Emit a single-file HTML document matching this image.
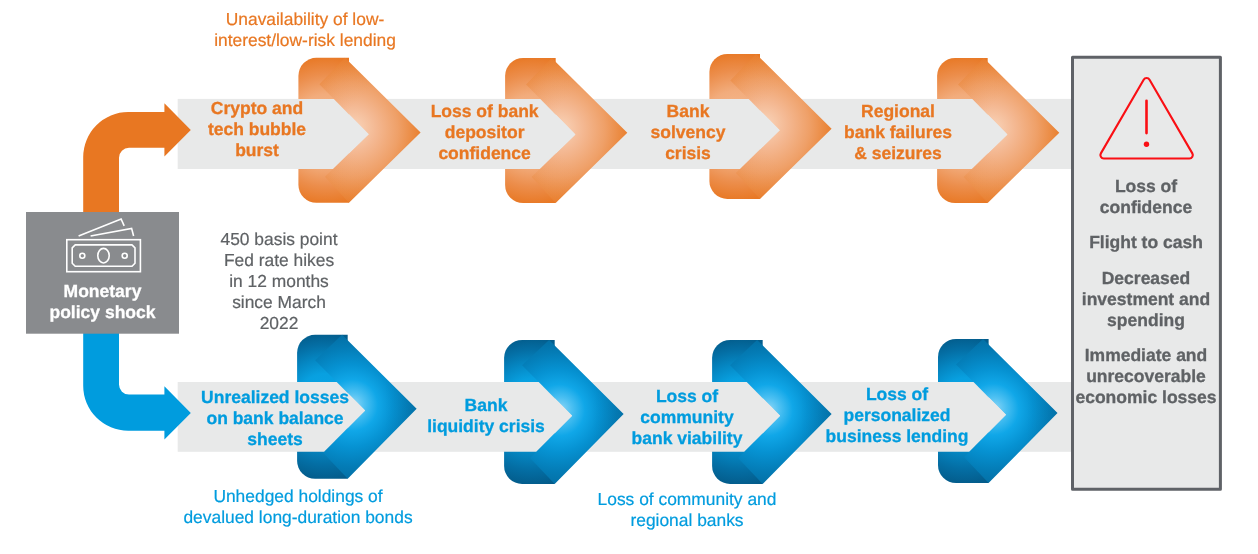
<!DOCTYPE html>
<html lang="en"><head><meta charset="utf-8"><title>Monetary policy shock</title>
<style>
html,body{margin:0;padding:0;background:#fff;}
body{width:1258px;height:554px;overflow:hidden;}
svg{display:block;font-family:"Liberation Sans",Arial,Helvetica,sans-serif;text-anchor:middle;text-rendering:geometricPrecision;}
.b{font-weight:700;font-size:17.5px;stroke-width:0.3px;}
.r{font-weight:400;font-size:17.4px;stroke-width:0.2px;}
</style></head><body>
<svg width="1258" height="554" viewBox="0 0 1258 554">
<defs>
<radialGradient id="rgo" gradientUnits="userSpaceOnUse" cx="51" cy="73" r="78" fx="56" fy="70">
<stop offset="0" stop-color="#F9D4BA"/><stop offset="0.3" stop-color="#F4B892"/><stop offset="0.6" stop-color="#EFA068"/><stop offset="0.85" stop-color="#EA863A"/><stop offset="1" stop-color="#E87722"/>
</radialGradient>
<radialGradient id="rbo" gradientUnits="userSpaceOnUse" cx="28" cy="72.5" r="80">
<stop offset="0" stop-color="#F6C09A"/><stop offset="0.45" stop-color="#F2AC7C"/><stop offset="0.7" stop-color="#EC8E4C"/><stop offset="0.93" stop-color="#E87824"/>
</radialGradient>
<linearGradient id="lto" gradientUnits="userSpaceOnUse" x1="62" y1="41.5" x2="33.8" y2="13.3">
<stop offset="0" stop-color="#E87722" stop-opacity="0"/><stop offset="1" stop-color="#E87722" stop-opacity="0.12"/>
</linearGradient>
<linearGradient id="lbo" gradientUnits="userSpaceOnUse" x1="66" y1="104.5" x2="38.5" y2="132">
<stop offset="0" stop-color="#E87722" stop-opacity="0"/><stop offset="1" stop-color="#E87722" stop-opacity="0.05"/>
</linearGradient>
<radialGradient id="rgb" gradientUnits="userSpaceOnUse" cx="51" cy="73" r="78" fx="57" fy="69">
<stop offset="0" stop-color="#8AD5F6"/><stop offset="0.15" stop-color="#4CC0F2"/><stop offset="0.33" stop-color="#10A7E8"/><stop offset="0.53" stop-color="#0692D2"/><stop offset="0.76" stop-color="#047CB6"/><stop offset="1" stop-color="#036A9E"/>
</radialGradient>
<radialGradient id="rbb" gradientUnits="userSpaceOnUse" cx="28" cy="72" r="80" fx="28" fy="64">
<stop offset="0" stop-color="#0AA6E8"/><stop offset="0.35" stop-color="#08A0E0"/><stop offset="0.55" stop-color="#0588C4"/><stop offset="0.75" stop-color="#046EA4"/><stop offset="1" stop-color="#035480"/>
</radialGradient>
<linearGradient id="ltb" gradientUnits="userSpaceOnUse" x1="88" y1="0" x2="120" y2="0">
<stop offset="0" stop-color="#035E8E" stop-opacity="0"/><stop offset="1" stop-color="#035E8E" stop-opacity="0.12"/>
</linearGradient>
<linearGradient id="lbb" gradientUnits="userSpaceOnUse" x1="88" y1="0" x2="120" y2="0">
<stop offset="0" stop-color="#035E8E" stop-opacity="0"/><stop offset="1" stop-color="#035E8E" stop-opacity="0.12"/>
</linearGradient>
<filter id="nf" x="-5%" y="-5%" width="110%" height="110%" color-interpolation-filters="sRGB"><feGaussianBlur stdDeviation="0.3"/></filter>
</defs>
<rect width="1258" height="554" fill="#fff"/>

<rect x="177.7" y="98.9" width="894.3" height="70.1" fill="#E8E9E9"/>
<rect x="177.7" y="382" width="894.3" height="69.80000000000001" fill="#E8E9E9"/>
<g transform="translate(298.4,57.8)">
<path d="M18,0 L50.6,0 L50.6,145.0 L18,145.0 A18,18 0 0 1 0,127.0 L0,18 A18,18 0 0 1 18,0 Z" fill="url(#rbo)"/>
<path d="M46.6,0.0 L122.2,74.8 L50.6,145.0 L26.5,119.0 L70.3,76.4 L21.0,26.5 Z" fill="url(#rgo)"/>
<path d="M46.6,0.0 L122.2,74.8 L70.3,76.4 L21.0,26.5 Z" fill="url(#lto)"/>
<path d="M50.6,145.0 L122.2,74.8 L70.3,76.4 L26.5,119.0 Z" fill="url(#lbo)"/>
<path d="M-1,41.1 L35.4,41.1 L70.3,76.4 L34.5,111.2 L-1,111.2 Z" fill="#E8E9E9"/>
</g>
<g transform="translate(505.1,58)">
<path d="M18,0 L50.6,0 L50.6,145.0 L18,145.0 A18,18 0 0 1 0,127.0 L0,18 A18,18 0 0 1 18,0 Z" fill="url(#rbo)"/>
<path d="M46.6,0.0 L122.2,74.8 L50.6,145.0 L26.5,119.0 L70.3,76.4 L21.0,26.5 Z" fill="url(#rgo)"/>
<path d="M46.6,0.0 L122.2,74.8 L70.3,76.4 L21.0,26.5 Z" fill="url(#lto)"/>
<path d="M50.6,145.0 L122.2,74.8 L70.3,76.4 L26.5,119.0 Z" fill="url(#lbo)"/>
<path d="M-1,40.9 L35.2,40.9 L70.3,76.4 L34.7,111.0 L-1,111.0 Z" fill="#E8E9E9"/>
</g>
<g transform="translate(709.4,53.9)">
<path d="M18,0 L50.6,0 L50.6,145.0 L18,145.0 A18,18 0 0 1 0,127.0 L0,18 A18,18 0 0 1 18,0 Z" fill="url(#rbo)"/>
<path d="M46.6,0.0 L122.2,74.8 L50.6,145.0 L26.5,119.0 L70.3,76.4 L21.0,26.5 Z" fill="url(#rgo)"/>
<path d="M46.6,0.0 L122.2,74.8 L70.3,76.4 L21.0,26.5 Z" fill="url(#lto)"/>
<path d="M50.6,145.0 L122.2,74.8 L70.3,76.4 L26.5,119.0 Z" fill="url(#lbo)"/>
<path d="M-1,45.0 L39.3,45.0 L70.3,76.4 L30.5,115.1 L-1,115.1 Z" fill="#E8E9E9"/>
</g>
<g transform="translate(937.1,58)">
<path d="M18,0 L50.6,0 L50.6,145.0 L18,145.0 A18,18 0 0 1 0,127.0 L0,18 A18,18 0 0 1 18,0 Z" fill="url(#rbo)"/>
<path d="M46.6,0.0 L122.2,74.8 L50.6,145.0 L26.5,119.0 L70.3,76.4 L21.0,26.5 Z" fill="url(#rgo)"/>
<path d="M46.6,0.0 L122.2,74.8 L70.3,76.4 L21.0,26.5 Z" fill="url(#lto)"/>
<path d="M50.6,145.0 L122.2,74.8 L70.3,76.4 L26.5,119.0 Z" fill="url(#lbo)"/>
<path d="M-1,40.9 L35.2,40.9 L70.3,76.4 L34.7,111.0 L-1,111.0 Z" fill="#E8E9E9"/>
</g>
<g transform="translate(297.1,334.8)">
<path d="M18,0 L50.6,0 L50.6,144.0 L18,144.0 A18,18 0 0 1 0,126.0 L0,18 A18,18 0 0 1 18,0 Z" fill="url(#rbb)"/>
<path d="M45.0,0.0 L119.5,74.0 L50.6,144.0 L26.0,118.0 L68.0,75.8 L18.0,25.4 Z" fill="url(#rgb)"/>
<path d="M45.0,0.0 L119.5,74.0 L68.0,75.8 L18.0,25.4 Z" fill="url(#ltb)"/>
<path d="M50.6,144.0 L119.5,74.0 L68.0,75.8 L26.0,118.0 Z" fill="url(#lbb)"/>
<path d="M-1,47.2 L39.6,47.2 L68.0,75.8 L27.0,117.0 L-1,117.0 Z" fill="#E8E9E9"/>
</g>
<g transform="translate(504.1,339.9)">
<path d="M18,0 L50.6,0 L50.6,144.0 L18,144.0 A18,18 0 0 1 0,126.0 L0,18 A18,18 0 0 1 18,0 Z" fill="url(#rbb)"/>
<path d="M45.0,0.0 L119.5,74.0 L50.6,144.0 L26.0,118.0 L68.0,75.8 L18.0,25.4 Z" fill="url(#rgb)"/>
<path d="M45.0,0.0 L119.5,74.0 L68.0,75.8 L18.0,25.4 Z" fill="url(#ltb)"/>
<path d="M50.6,144.0 L119.5,74.0 L68.0,75.8 L26.0,118.0 Z" fill="url(#lbb)"/>
<path d="M-1,42.1 L34.6,42.1 L68.0,75.8 L32.1,111.9 L-1,111.9 Z" fill="#E8E9E9"/>
</g>
<g transform="translate(712.1,339.9)">
<path d="M18,0 L50.6,0 L50.6,144.0 L18,144.0 A18,18 0 0 1 0,126.0 L0,18 A18,18 0 0 1 18,0 Z" fill="url(#rbb)"/>
<path d="M45.0,0.0 L119.5,74.0 L50.6,144.0 L26.0,118.0 L68.0,75.8 L18.0,25.4 Z" fill="url(#rgb)"/>
<path d="M45.0,0.0 L119.5,74.0 L68.0,75.8 L18.0,25.4 Z" fill="url(#ltb)"/>
<path d="M50.6,144.0 L119.5,74.0 L68.0,75.8 L26.0,118.0 Z" fill="url(#lbb)"/>
<path d="M-1,42.1 L34.6,42.1 L68.0,75.8 L32.1,111.9 L-1,111.9 Z" fill="#E8E9E9"/>
</g>
<g transform="translate(938,339)">
<path d="M18,0 L50.6,0 L50.6,144.0 L18,144.0 A18,18 0 0 1 0,126.0 L0,18 A18,18 0 0 1 18,0 Z" fill="url(#rbb)"/>
<path d="M45.0,0.0 L119.5,74.0 L50.6,144.0 L26.0,118.0 L68.0,75.8 L18.0,25.4 Z" fill="url(#rgb)"/>
<path d="M45.0,0.0 L119.5,74.0 L68.0,75.8 L18.0,25.4 Z" fill="url(#ltb)"/>
<path d="M50.6,144.0 L119.5,74.0 L68.0,75.8 L26.0,118.0 Z" fill="url(#lbb)"/>
<path d="M-1,43.0 L35.5,43.0 L68.0,75.8 L31.2,112.8 L-1,112.8 Z" fill="#E8E9E9"/>
</g>
<path d="M83.2,213 V157.1 A45,45 0 0 1 128.2,112.1 H164.4 V103.2 L190.8,129.9 L164.4,156.6 V147.8 H129 A10,10 0 0 0 119,157.8 V213 Z" fill="#E87722"/>
<path d="M83.2,332 V385.8 A45,45 0 0 0 128.2,430.8 H164.4 V439.5 L190.8,412.9 L164.4,386.3 V394.6 H129 A10,10 0 0 1 119,384.6 V332 Z" fill="#009CDE"/>
<rect x="26" y="212" width="153" height="121.7" fill="#898B8E"/>
<g fill="none" stroke="#fff" stroke-width="1.6" stroke-linejoin="miter">
<rect x="66.8" y="239.7" width="73.6" height="32"/>
<path d="M75.2,244.9 H132 L135,247.9 V263.3 L132,266.3 H75.2 L72.2,263.3 V247.9 Z" stroke-linejoin="round"/>
<ellipse cx="103.5" cy="255.7" rx="5.7" ry="7.3"/>
<circle cx="82.3" cy="255.7" r="2.5"/>
<circle cx="124.7" cy="255.7" r="2.5"/>
<path d="M78.6,236 L121.1,219 L124.2,225.8"/>
<path d="M90.6,236 L131.6,228.4 L133.6,236"/>
</g>
<g class="b" fill="#fff" stroke="#fff" filter="url(#nf)">
<text x="102.5" y="297">Monetary</text>
<text x="102.5" y="318">policy shock</text>
</g>
<rect x="1072.5" y="57.3" width="147.9" height="432" fill="#E8E9E9" stroke="#5F6267" stroke-width="3" stroke-linejoin="round"/>
<g fill="none" stroke="#FA0F14" stroke-linecap="round">
<path d="M1143.66,79.67 A3.4,3.4 0 0 1 1149.54,79.67 L1192.34,153.39 A3.4,3.4 0 0 1 1189.40,158.50 L1103.80,158.50 A3.4,3.4 0 0 1 1100.86,153.39 Z" stroke-width="2.1"/>
<path d="M1146.5,100.7 V133.1" stroke-width="2.6"/>
</g>
<circle cx="1146.5" cy="144.2" r="2.7" fill="#FA0F14"/>
<g class="b" fill="#5F6265" stroke="#5F6265" filter="url(#nf)">
<text x="1146" y="192">Loss of</text>
<text x="1146" y="213">confidence</text>
</g>
<g class="b" fill="#5F6265" stroke="#5F6265" filter="url(#nf)">
<text x="1146" y="248">Flight to cash</text>
</g>
<g class="b" fill="#5F6265" stroke="#5F6265" filter="url(#nf)">
<text x="1146" y="284">Decreased</text>
<text x="1146" y="305">investment and</text>
<text x="1146" y="326">spending</text>
</g>
<g class="b" fill="#5F6265" stroke="#5F6265" filter="url(#nf)">
<text x="1146" y="361">Immediate and</text>
<text x="1146" y="382">unrecoverable</text>
<text x="1146" y="403">economic losses</text>
</g>
<g class="r" fill="#E87722" stroke="#E87722" filter="url(#nf)">
<text x="305" y="25">Unavailability of low-</text>
<text x="305" y="46">interest/low-risk lending</text>
</g>
<g class="b" fill="#E87722" stroke="#E87722" filter="url(#nf)">
<text x="257" y="114">Crypto and</text>
<text x="257" y="135">tech bubble</text>
<text x="257" y="156">burst</text>
</g>
<g class="b" fill="#E87722" stroke="#E87722" filter="url(#nf)">
<text x="484.6" y="117">Loss of bank</text>
<text x="484.6" y="138">depositor</text>
<text x="484.6" y="159">confidence</text>
</g>
<g class="b" fill="#E87722" stroke="#E87722" filter="url(#nf)">
<text x="688" y="117">Bank</text>
<text x="688" y="138">solvency</text>
<text x="688" y="159">crisis</text>
</g>
<g class="b" fill="#E87722" stroke="#E87722" filter="url(#nf)">
<text x="898" y="117">Regional</text>
<text x="898" y="138">bank failures</text>
<text x="898" y="159">&amp; seizures</text>
</g>
<g class="r" fill="#5F6265" stroke="#5F6265" filter="url(#nf)">
<text x="279" y="245">450 basis point</text>
<text x="279" y="266">Fed rate hikes</text>
<text x="279" y="287">in 12 months</text>
<text x="279" y="308">since March</text>
<text x="279" y="329">2022</text>
</g>
<g class="b" fill="#009CDE" stroke="#009CDE" filter="url(#nf)">
<text x="275" y="403">Unrealized losses</text>
<text x="275" y="424">on bank balance</text>
<text x="275" y="445">sheets</text>
</g>
<g class="b" fill="#009CDE" stroke="#009CDE" filter="url(#nf)">
<text x="486" y="411">Bank</text>
<text x="486" y="432">liquidity crisis</text>
</g>
<g class="b" fill="#009CDE" stroke="#009CDE" filter="url(#nf)">
<text x="687" y="402">Loss of</text>
<text x="687" y="423">community</text>
<text x="687" y="444">bank viability</text>
</g>
<g class="b" fill="#009CDE" stroke="#009CDE" filter="url(#nf)">
<text x="897" y="400">Loss of</text>
<text x="897" y="421">personalized</text>
<text x="897" y="442">business lending</text>
</g>
<g class="r" fill="#009CDE" stroke="#009CDE" filter="url(#nf)">
<text x="298" y="502">Unhedged holdings of</text>
<text x="298" y="523">devalued long-duration bonds</text>
</g>
<g class="r" fill="#009CDE" stroke="#009CDE" filter="url(#nf)">
<text x="687" y="505">Loss of community and</text>
<text x="687" y="526">regional banks</text>
</g>
</svg>
</body></html>
